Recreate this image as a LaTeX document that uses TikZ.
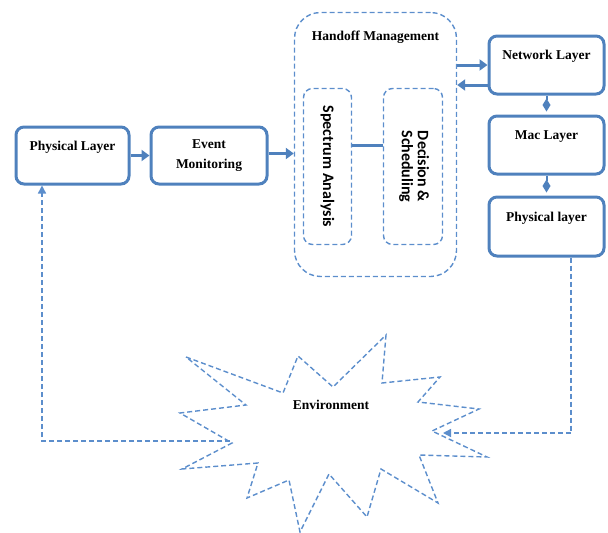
\documentclass[tikz,border=0pt]{standalone}
\usepackage{fontspec}
\setmainfont{Liberation Serif}
\newfontfamily\calibrifont{Carlito}
\usepackage{xcolor}
\usepackage{tikz}
\usetikzlibrary{calc}
\usetikzlibrary{arrows, arrows.meta}

\definecolor{hoblue}{RGB}{79,129,189}
\definecolor{hodash}{RGB}{92,142,204}

\tikzset{%
layerbox/.style={draw=hoblue, line width=3pt, rounded corners=8pt, align=center, inner sep=0pt, font=\bfseries\fontsize{13.5}{20}\selectfont},
dashbox/.style={draw=hodash, line width=1.4pt, dash pattern=on 5pt off 3pt, inner sep=0pt},
flowline/.style={draw=hoblue, line width=3pt, -{Triangle[length=8pt, width=11pt]}},
feedbackline/.style={draw=hodash, line width=1.4pt, dash pattern=on 5pt off 3pt, -{Triangle[length=8pt, width=8pt]}}%
}

\begin{document}
\begin{tikzpicture}[x=1pt, y=-1pt]

\useasboundingbox (0,0) rectangle (608,533);

% arguments: name, x, y, width, height, text
\newcommand{\setlayer}[6]{%
\path (#2, #3) node [layerbox, minimum width=#4, minimum height=#5] (#1) {#6} ;
}

% draw left chain

\setlayer{phyleft}{72.5}{155.5}{113pt}{57pt}{Physical Layer\\~}
\setlayer{evmon}{209}{155.5}{116pt}{57pt}{Event\\Monitoring}

% draw handoff management

\path (375.5, 144.5) node [dashbox, rounded corners=26pt, minimum width=162pt, minimum height=264pt] (handoff) {} ;
\path (375.5, 37) node [font=\bfseries\fontsize{13.5}{16}\selectfont] (handofftitle) {Handoff Management} ;

\path (327.5, 166.5) node [dashbox, rounded corners=9pt, minimum width=48pt, minimum height=156pt,
	font=\calibrifont\bfseries\fontsize{16}{16}\selectfont] (spectrum) {\rotatebox{-90}{Spectrum Analysis}} ;

\path (413, 166.5) node [dashbox, rounded corners=9pt, minimum width=59pt, minimum height=156pt,
	font=\calibrifont\bfseries\fontsize{16}{16}\selectfont] (decision)
	{\rotatebox{-90}{\begin{tabular}{@{}c@{}}Decision \&\\[0pt]Scheduling\end{tabular}}} ;

% draw right stack

\setlayer{netlayer}{546.5}{65}{115pt}{58pt}{Network Layer\\~}
\setlayer{maclayer}{546.5}{145}{115pt}{58pt}{Mac Layer\\~}
\setlayer{phyright}{546.5}{226.5}{115pt}{59pt}{Physical layer\\~}

% draw connectors

\draw [flowline] (phyleft) -- (evmon) ;
\draw [flowline] ([yshift=2pt]evmon.east) -- ([yshift=2pt]evmon.east -| handoff.west) ;

\draw [draw=hoblue, line width=3pt] ([yshift=21.5pt]spectrum.east) -- ([yshift=21.5pt]decision.west) ;

\draw [flowline] (netlayer.west -| handoff.east) -- (netlayer.west) ;
\draw [flowline] ([yshift=-20pt]netlayer.west) -- ([yshift=-20pt]netlayer.west -| handoff.east) ;

\draw [draw=hoblue, line width=2pt, -{Diamond[length=13pt, width=8pt]}, shorten >=3pt] (netlayer.south) -- (maclayer.north) ;
\draw [draw=hoblue, line width=2pt, -{Diamond[length=13pt, width=8pt]}, shorten >=3pt] (maclayer.south) -- (phyright.north) ;

% draw environment

\draw [dashbox] (186,357) -- (283,393) -- (298,356) -- (333,387) -- (386,335) -- (382,383)
	-- (440,377) -- (418,402) -- (479,409) -- (432,431) -- (487,457) -- (419,455)
	-- (438,503) -- (381,469) -- (367,517) -- (329,474) -- (300,532) -- (289,480)
	-- (247,498) -- (258,463) -- (182,469) -- (232,443) -- (180,413) -- (246,405) -- cycle ;

\path (331, 405) node [font=\bfseries\fontsize{13.5}{16}\selectfont] (environment) {Environment} ;

\coordinate (envleft) at (230, 441) ;
\coordinate (envright) at (443, 433) ;

\draw [feedbackline] (envleft) -| ([xshift=-30.5pt]phyleft.south) ;
\draw [feedbackline] ([xshift=24.5pt]phyright.south) |- (envright) ;

\end{tikzpicture}
\end{document}
